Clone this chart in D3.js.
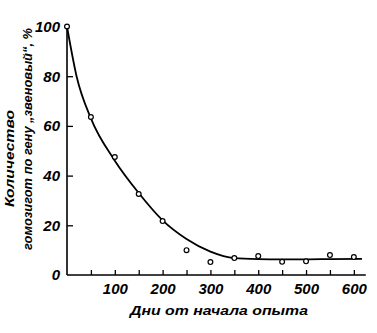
<!doctype html>
<html>
<head>
<meta charset="utf-8">
<title>homozygotes</title>
<script src="https://d3js.org/d3.v7.min.js"></script>
<style>
  body { margin: 0; background: #fff; }
  .axis text { font: italic bold 15px "Liberation Sans", sans-serif; fill: #000; }
  .label { font: italic bold 13px "Liberation Sans", sans-serif; fill: #000; }
</style>
</head>
<body>
<script>

// measured points: days from start, % homozygotes
var pointDays  = [0, 50, 100, 150, 200, 250, 300, 350, 400, 450, 500, 550, 600];
var pointPct   = [100, 63.6, 47.5, 32.6, 21.7, 10, 5.2, 6.8, 7.6, 5.3, 5.5, 8, 7.2];

// fitted curve
var curveDays  = [0, 20, 50, 100, 150, 200, 250, 300, 350, 400, 450, 500, 550, 617];
var curvePct   = [100, 80, 63, 46, 33, 22, 14.5, 9.4, 6.8, 6.4, 6.3, 6.3, 6.4, 6.5];

var xTicks = [50, 100, 150, 200, 250, 300, 350, 400, 450, 500, 550, 600];
var xLabels = [100, 200, 300, 400, 500, 600];
var yTicks = [0, 20, 40, 60, 80, 100];

var width = 377, height = 333;

var svg = d3.select('body').append('svg')
            .attr('width', width)
            .attr('height', height);

var x = d3.scaleLinear().domain([0, 625]).range([67, 365.8]);
var y = d3.scaleLinear().domain([0, 100]).range([275, 26.5]);

// x axis, ticks pointing up
var xAxis = d3.axisBottom(x)
              .tickValues(xTicks)
              .tickSize(-5)
              .tickPadding(5)
              .tickFormat(function(d) { return xLabels.indexOf(d) >= 0 ? d : ''; });

var gx = svg.append('g')
            .attr('class', 'axis')
            .attr('transform', 'translate(0,' + y(0) + ')')
            .call(xAxis);
gx.select('.domain').attr('d', 'M' + x(0) + ',0H' + x(625)).attr('stroke-width', 1.6);
gx.selectAll('.tick line').attr('stroke-width', 1.3);
gx.selectAll('.tick text').attr('dy', '0.95em');

// y axis, ticks pointing right
var yAxis = d3.axisLeft(y)
              .tickValues(yTicks)
              .tickSize(-6)
              .tickPadding(7);

var gy = svg.append('g')
            .attr('class', 'axis')
            .attr('transform', 'translate(' + x(0) + ',0)')
            .call(yAxis);
gy.select('.domain').attr('d', 'M0,' + y(0) + 'V' + y(100)).attr('stroke-width', 1.6);
gy.selectAll('.tick line').attr('stroke-width', 1.3);
gy.selectAll('.tick').filter(function(d) { return d === 0 || d === 100; }).select('line').remove();

// fitted curve
var curveData = curveDays.map(function(d, i) { return [d, curvePct[i]]; });
var line = d3.line()
             .x(function(d) { return x(d[0]); })
             .y(function(d) { return y(d[1]); })
             .curve(d3.curveMonotoneX);

svg.append('path')
   .datum(curveData)
   .attr('d', line)
   .attr('fill', 'none')
   .attr('stroke', '#000')
   .attr('stroke-width', 1.8);

// measured points
svg.selectAll('circle.pt')
   .data(pointDays)
   .enter()
   .append('circle')
   .attr('class', 'pt')
   .attr('cx', function(d) { return x(d); })
   .attr('cy', function(d, i) { return y(pointPct[i]); })
   .attr('r', 2.4)
   .attr('fill', '#fff')
   .attr('stroke', '#000')
   .attr('stroke-width', 1.2);

// x label
svg.append('text')
   .attr('class', 'label')
   .attr('x', 130)
   .attr('y', 315)
   .attr('textLength', 178)
   .attr('lengthAdjust', 'spacingAndGlyphs')
   .text('Дни от начала опыта');

// y label, two lines
svg.append('text')
   .attr('class', 'label')
   .attr('transform', 'translate(14,207) rotate(-90)')
   .attr('textLength', 97)
   .attr('lengthAdjust', 'spacingAndGlyphs')
   .text('Количество');

svg.append('text')
   .attr('class', 'label')
   .attr('transform', 'translate(32,250) rotate(-90)')
   .attr('textLength', 222)
   .attr('lengthAdjust', 'spacingAndGlyphs')
   .text('гомозигот по гену „звеновый“, %');

</script>
</body>
</html>
